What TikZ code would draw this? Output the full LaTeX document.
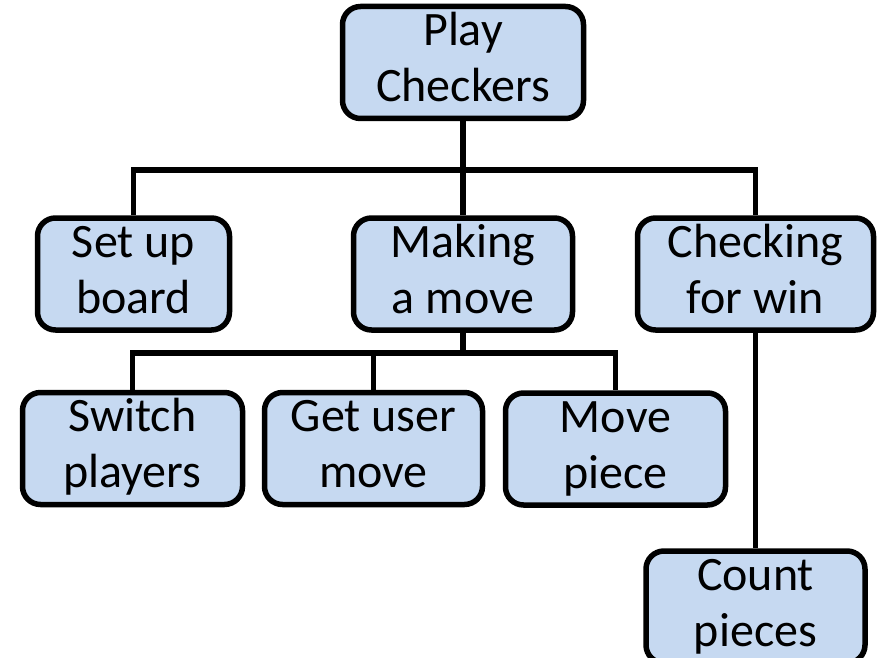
\documentclass[tikz,border=0pt]{standalone}
\usepackage{fontspec}
\setmainfont{Carlito}
\definecolor{boxfill}{HTML}{C6D9F1}
\newcommand{\twoline}[2]{\strut #1\\\strut #2}
\begin{document}
\begin{tikzpicture}[x=1pt,y=-1pt,
  task/.style={draw=black, line width=5.5pt, fill=boxfill, rounded corners=18pt,
    inner sep=0pt, align=center, font=\fontsize{48}{56}\selectfont},
  link/.style={line width=5.5pt, draw=black}]
\useasboundingbox (0,0) rectangle (878,658);

% root
\node[task, minimum width=241pt, minimum height=106pt] (play) at (463,62.5)
  {\twoline{Play}{Checkers}};

% second level
\node[task, minimum width=192pt, minimum height=103pt] (setup) at (133.5,274)
  {\twoline{Set up}{board}};
\node[task, minimum width=219pt, minimum height=103pt] (making) at (463,274)
  {\twoline{Making}{a move}};
\node[task, minimum width=236pt, minimum height=103pt] (checking) at (755.5,274)
  {\twoline{Checking}{for win}};

% third level
\node[task, minimum width=220pt, minimum height=105pt] (switch) at (132.5,448.5)
  {\twoline{Switch}{players}};
\node[task, minimum width=218pt, minimum height=105pt] (getuser) at (373.5,448.5)
  {\twoline{Get user}{move}};
\node[task, minimum width=220pt, minimum height=105pt] (movepiece) at (615.5,449)
  {\twoline{Move}{piece}};
\node[task, minimum width=219pt, minimum height=105pt] (count) at (755.5,607)
  {\twoline{Count}{pieces}};

% bus lines
\coordinate (busA) at (0,170);
\coordinate (busB) at (0,353);

\draw[link] (play.south) -- (making.north);
\draw[link] (setup.north) -- (setup.north |- busA) -- (checking.north |- busA) -- (checking.north);

\draw[link] (making.south) -- (making.south |- busB);
\draw[link] (switch.north) -- (switch.north |- busB) -- (movepiece.north |- busB) -- (movepiece.north);
\draw[link] (getuser.north) -- (getuser.north |- busB);

\draw[link] (checking.south) -- (count.north);
\end{tikzpicture}
\end{document}
